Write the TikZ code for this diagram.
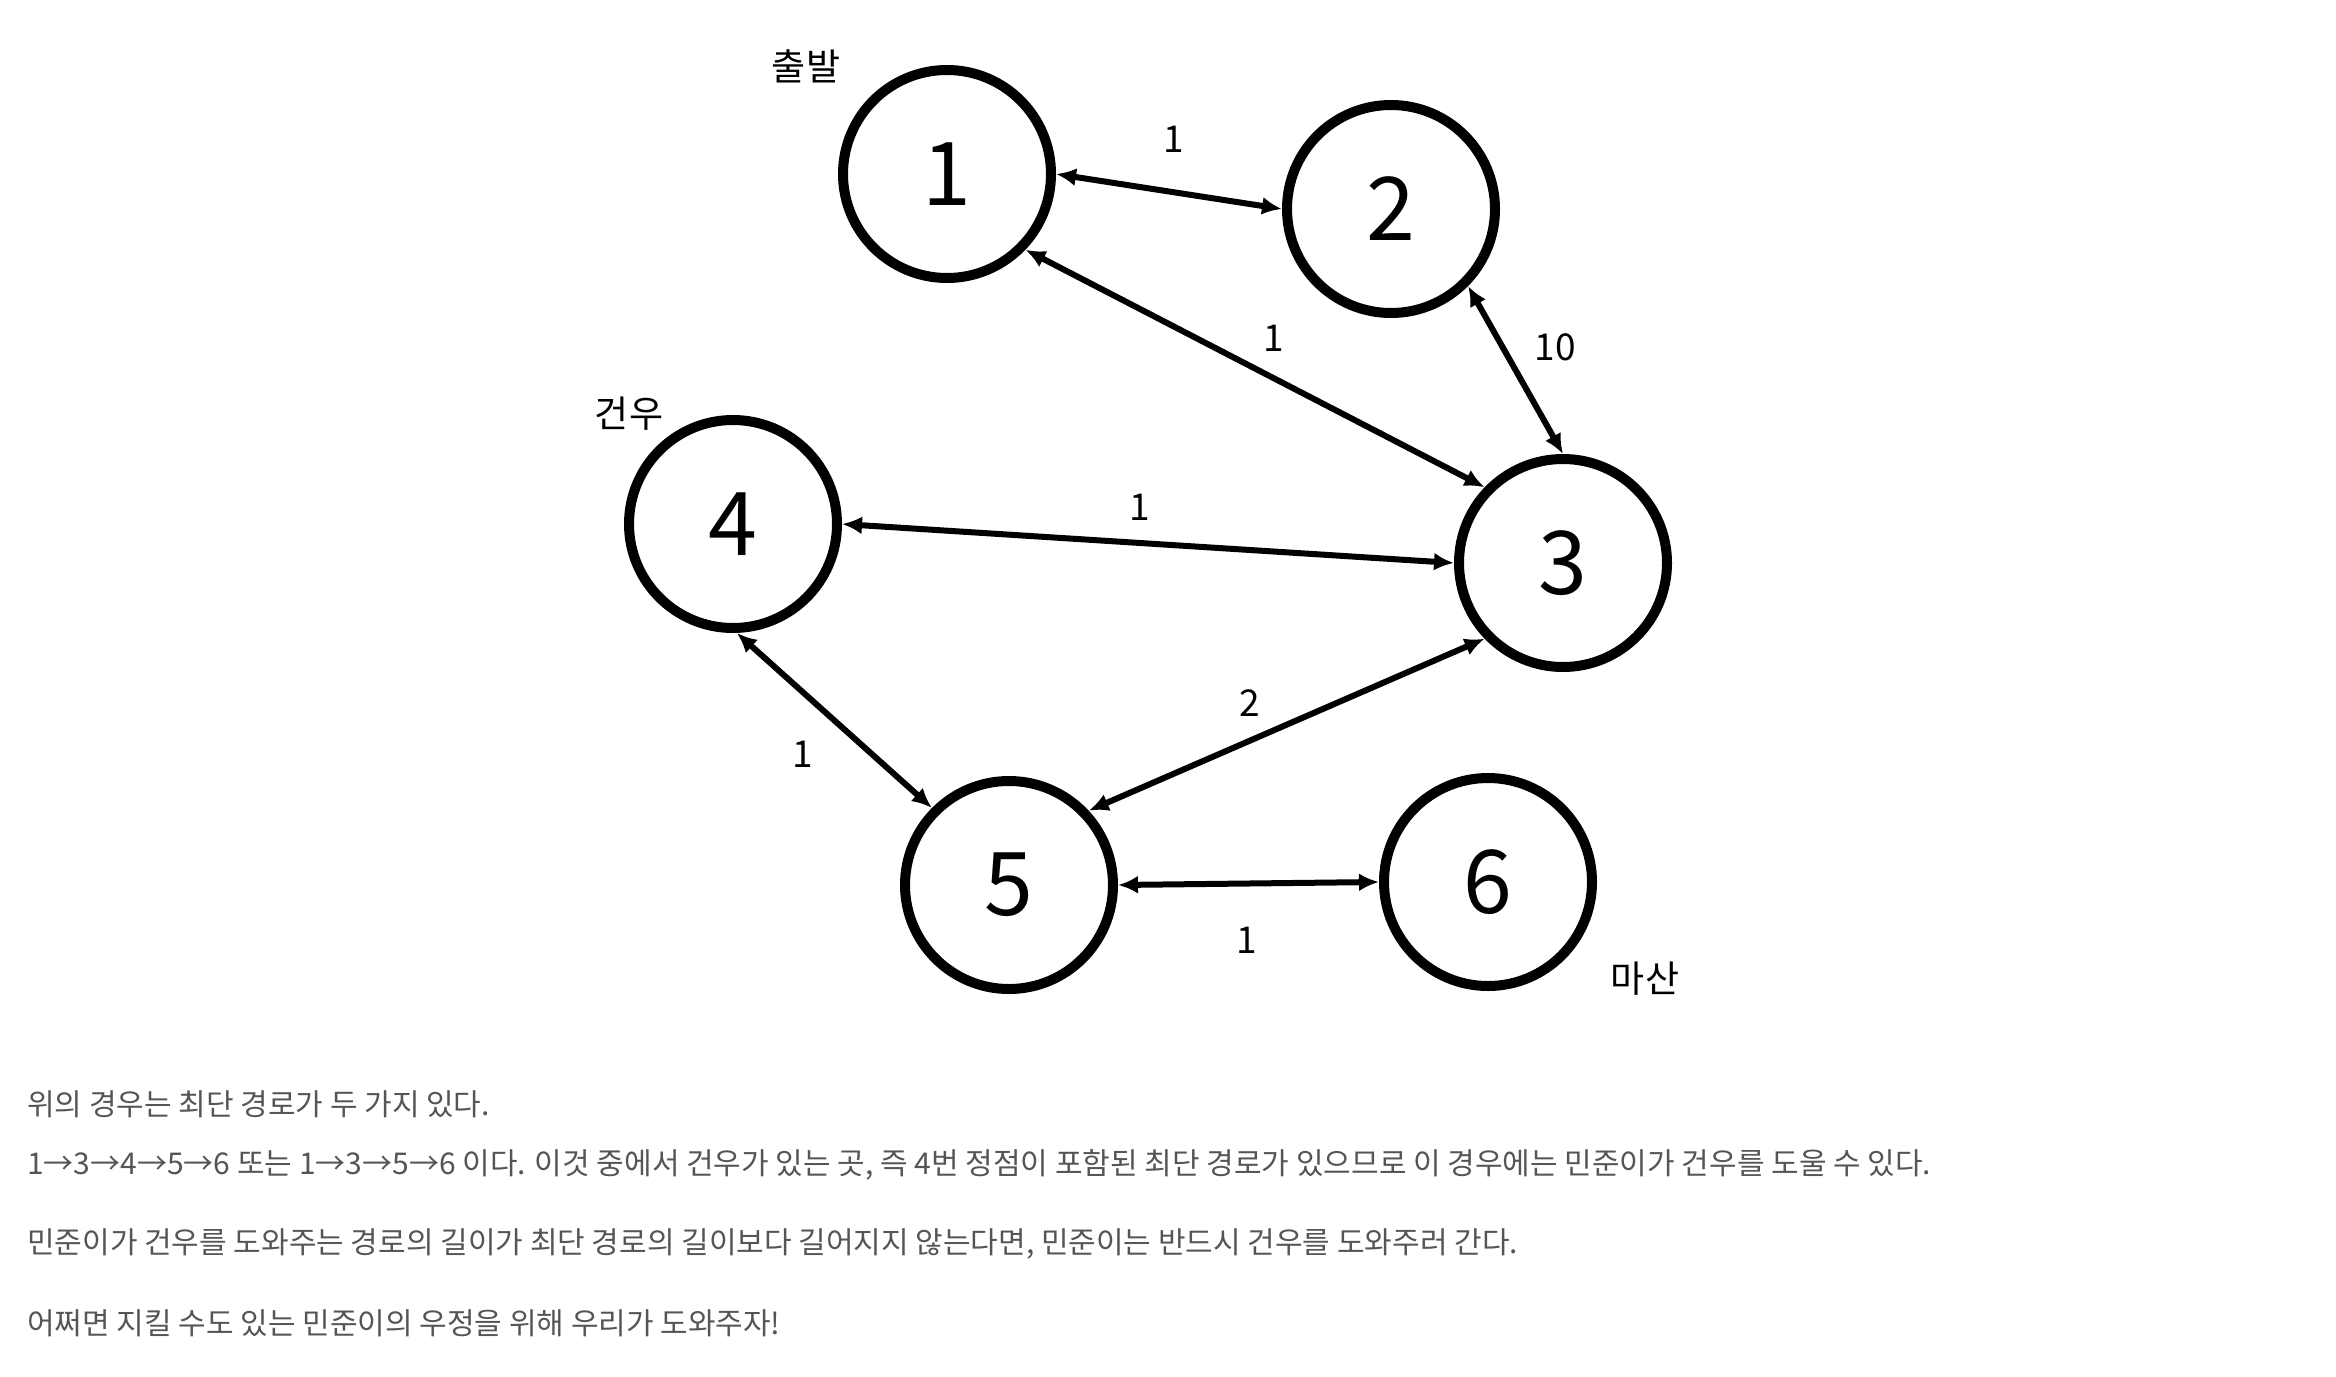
\documentclass[tikz,border=0pt]{standalone}
\usepackage{fontspec}
\setmainfont{Noto Sans CJK KR}
\usetikzlibrary{arrows.meta}
\definecolor{bodygray}{HTML}{555555}
\begin{document}
\begin{tikzpicture}[x=1pt, y=-1pt,
    vertex/.style={draw, circle, line width=10pt, minimum size=208pt, inner sep=0pt, font=\fontsize{88}{88}\selectfont},
    edge/.style={line width=6pt, {Latex[length=20pt,width=18pt]}-{Latex[length=20pt,width=18pt]}},
    wlabel/.style={font=\fontsize{37}{37}\selectfont},
    body/.style={anchor=west, inner sep=0pt, text=bodygray, font=\fontsize{30}{36}\selectfont}]
  \useasboundingbox (0,0) rectangle (2336,1376);
  % vertices
  \node[vertex] (n1) at (947,174) {1};
  \node[vertex] (n2) at (1391,209) {2};
  \node[vertex] (n3) at (1563,563) {3};
  \node[vertex] (n4) at (733,524) {4};
  \node[vertex] (n5) at (1009,885) {5};
  \node[vertex] (n6) at (1488,882) {6};
  % names
  \node[wlabel] (start) at (806,66) {출발};
  \node[wlabel] (gunwoo) at (629,414) {건우};
  \node[wlabel] (masan) at (1645,979) {마산};
  % edges
  \draw[edge] (n1.east) -- (n2.west);
  \draw[edge] (n1.-44) -- (n3.136);
  \draw[edge] (n2.-45) -- (n3.90);
  \draw[edge] (n4.east) -- (n3.west);
  \draw[edge] (n4.-88) -- (n5.135);
  \draw[edge] (n5.43) -- (n3.-136);
  \draw[edge] (n5.east) -- (n6.west);
  % weights
  \node[wlabel] (w12) at (1174,139) {1};
  \node[wlabel] (w13) at (1274,338) {1};
  \node[wlabel] (w23) at (1555,347) {10};
  \node[wlabel] (w43) at (1140,507) {1};
  \node[wlabel] (w53) at (1250,703) {2};
  \node[wlabel] (w45) at (803,754) {1};
  \node[wlabel] (w56) at (1247,940) {1};
  % text below
  \node[body] (t1) at (27,1104) {위의 경우는 최단 경로가 두 가지 있다.};
  \node[body] (t2) at (27,1165) {1→3→4→5→6 또는 1→3→5→6 이다. 이것 중에서 건우가 있는 곳, 즉 4번 정점이 포함된 최단 경로가 있으므로 이 경우에는 민준이가 건우를 도울 수 있다.};
  \node[body] (t3) at (27,1244) {민준이가 건우를 도와주는 경로의 길이가 최단 경로의 길이보다 길어지지 않는다면, 민준이는 반드시 건우를 도와주러 간다.};
  \node[body] (t4) at (27,1323) {어쩌면 지킬 수도 있는 민준이의 우정을 위해 우리가 도와주자!};
\end{tikzpicture}
\end{document}
